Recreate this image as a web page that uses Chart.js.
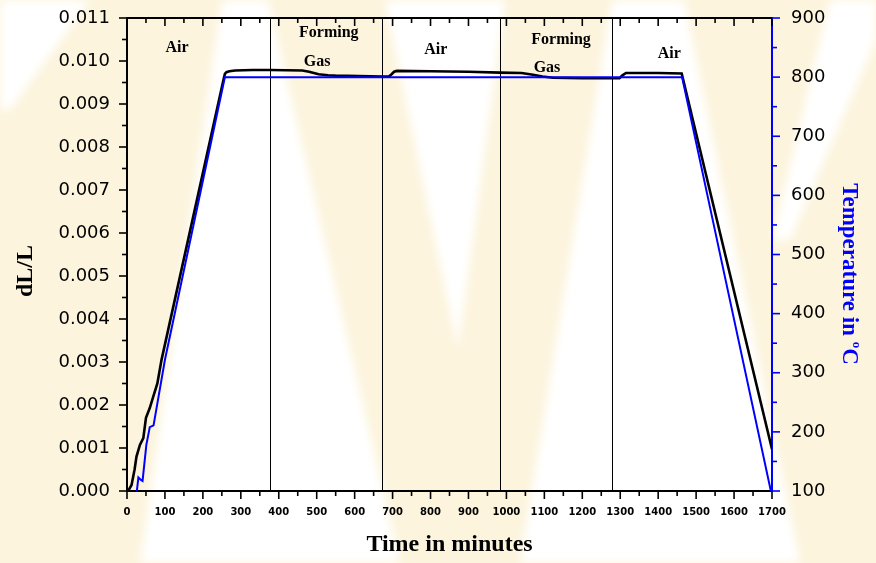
<!DOCTYPE html>
<html>
<head>
<meta charset="utf-8">
<script src="https://cdn.jsdelivr.net/npm/chart.js@4.4.1/dist/chart.umd.min.js"></script>
<style>
  html, body { margin: 0; padding: 0; background: #fcf4dd; }
  #wrap { width: 876px; height: 563px; position: relative; }
</style>
</head>
<body>
<div id="wrap"><canvas id="dilChart"></canvas></div>
<script>
// Dilatometer run: relative length change and furnace temperature vs time
const timeMax = 1700;

const strainTime = [0, 5, 12, 20, 25, 34, 43, 50, 60, 69, 80, 91, 254, 258, 262, 270, 285, 330, 377, 462, 480, 505,
  530, 549, 610, 672, 690, 696, 704, 711, 800, 900, 983, 1040, 1070, 1095, 1123, 1200, 1278, 1298, 1305, 1315, 1400, 1462, 1700];
const strainValues = [0, 0.00003, 0.00014, 0.0005, 0.0008, 0.00107, 0.00123, 0.0017, 0.00193, 0.00219,
  0.0025, 0.00305, 0.00955, 0.0097, 0.00974, 0.00976, 0.00978, 0.00979, 0.00979, 0.00978, 0.00975, 0.00969,
  0.00967, 0.00966, 0.00965, 0.00964, 0.00964, 0.00968, 0.00975, 0.00977, 0.00976, 0.00975, 0.00973, 0.00972,
  0.00968, 0.00964, 0.00961, 0.0096, 0.0096, 0.0096, 0.00966, 0.00972, 0.00972, 0.00971, 0.00097];

const tempTime = [26, 30, 36, 41, 51, 60, 70, 100, 258, 1463, 1697];
const tempValues = [100, 123, 119, 117, 178, 208, 211, 322, 800, 800, 100];

// atmosphere switch-over times
const switchTimes = [377, 672, 983, 1278];

const atmLabels = ['Air', 'Forming', 'Gas', 'Air', 'Forming', 'Gas', 'Air'];
const atmLabelTime = [132, 532, 501, 814, 1144, 1107, 1429];
const atmLabelLevel = [0.0103, 0.01065, 0.00998, 0.01026, 0.01049, 0.00984, 0.01016];

const sansFont = "'DejaVu Sans', sans-serif";
const serifFont = "'Liberation Serif', 'Times New Roman', serif";

function line(ctx, x1, y1, x2, y2) {
  ctx.beginPath();
  ctx.moveTo(x1, y1);
  ctx.lineTo(x2, y2);
  ctx.stroke();
}

// vertical axes: fixed width, no extra label padding above/below the plot
function fixWidth(w) {
  return s => {
    s.width = w;
    s.paddingTop = 0;
    s.paddingBottom = 0;
  };
}

// faint chevron watermark behind everything
const watermark = {
  id: 'watermark',
  beforeDraw(chart) {
    const { ctx, width, height } = chart;
    const shapes = [
      [[0, 0], [90, 0], [10, 110], [0, 110]],
      [[222, 0], [268, 0], [400, 563], [140, 563]],
      [[385, 0], [505, 0], [458, 350]],
      [[612, 0], [684, 0], [800, 563], [520, 563]],
      [[830, 0], [876, 0], [876, 40], [790, 240], [772, 240]]
    ];
    ctx.save();
    ctx.fillStyle = '#fcf4dd';
    ctx.fillRect(0, 0, width, height);
    ctx.filter = 'blur(5px)';
    ctx.fillStyle = '#ffffff';
    shapes.forEach(poly => {
      ctx.beginPath();
      poly.forEach(([px, py], i) => i ? ctx.lineTo(px, py) : ctx.moveTo(px, py));
      ctx.closePath();
      ctx.fill();
    });
    ctx.restore();
  }
};

// thin vertical lines where the gas was switched
const switchLines = {
  id: 'switchLines',
  beforeDatasetsDraw(chart) {
    const { ctx, chartArea: a, scales } = chart;
    ctx.save();
    ctx.strokeStyle = '#000';
    ctx.lineWidth = 1;
    switchTimes.forEach(t => {
      const px = Math.round(scales.x.getPixelForValue(t)) + 0.5;
      line(ctx, px, a.top, px, a.bottom);
    });
    ctx.restore();
  }
};

// major/minor tick marks, top frame line with inward mirror ticks
const tickMarks = {
  id: 'tickMarks',
  afterDraw(chart) {
    const { ctx, chartArea: a, scales } = chart;
    const major = 8, minor = 5;
    ctx.save();
    ctx.lineWidth = 1.6;
    ctx.strokeStyle = '#000';
    for (let i = 0; i <= timeMax / 50; i++) {
      const px = scales.x.getPixelForValue(i * 50);
      const len = i % 2 === 0 ? major : minor;
      line(ctx, px, a.bottom, px, a.bottom + len);
      line(ctx, px, a.top, px, a.top + len);
    }
    for (let i = 0; i <= 22; i++) {
      const py = scales.y.getPixelForValue(i * 0.0005);
      const len = i % 2 === 0 ? major : minor;
      line(ctx, a.left - len, py, a.left, py);
    }
    ctx.lineWidth = 2;
    line(ctx, a.left - 1, a.top, a.right, a.top);
    ctx.strokeStyle = '#0000ff';
    ctx.lineWidth = 1.6;
    for (let i = 0; i <= 16; i++) {
      const py = scales.y2.getPixelForValue(100 + i * 50);
      const len = i % 2 === 0 ? major : minor;
      line(ctx, a.right, py, a.right + len, py);
    }
    ctx.restore();
  }
};

// vertical axis titles (right one with a raised degree "o")
const axisTitles = {
  id: 'axisTitles',
  afterDraw(chart) {
    const { ctx } = chart;
    ctx.save();
    ctx.font = 'bold 24px ' + serifFont;
    ctx.fillStyle = '#000';
    ctx.textAlign = 'center';
    ctx.textBaseline = 'middle';
    ctx.translate(26, 271);
    ctx.rotate(-Math.PI / 2);
    ctx.fillText('dL/L', 0, 0);
    ctx.restore();

    ctx.save();
    ctx.fillStyle = '#0000ff';
    ctx.textBaseline = 'alphabetic';
    const main = 'bold 23px ' + serifFont;
    const sup = 'bold 13px ' + serifFont;
    ctx.font = main;
    const w1 = ctx.measureText('Temperature in ').width;
    const w3 = ctx.measureText('C').width;
    ctx.font = sup;
    const w2 = ctx.measureText('o').width;
    const total = w1 + w2 + w3;
    ctx.translate(843, 274);
    ctx.rotate(Math.PI / 2);
    let x = -total / 2;
    ctx.font = main;
    ctx.fillText('Temperature in ', x, 0);
    x += w1;
    ctx.font = sup;
    ctx.fillText('o', x, -10);
    x += w2;
    ctx.font = main;
    ctx.fillText('C', x, 0);
    ctx.restore();
  }
};

// gas atmosphere names above the plateau
const atmosphereLabels = {
  id: 'atmosphereLabels',
  afterDatasetsDraw(chart) {
    const { ctx, scales } = chart;
    ctx.save();
    ctx.font = 'bold 16px ' + serifFont;
    ctx.fillStyle = '#000';
    ctx.textAlign = 'center';
    ctx.textBaseline = 'middle';
    atmLabels.forEach((txt, i) => {
      ctx.fillText(txt, scales.x.getPixelForValue(atmLabelTime[i]), scales.y.getPixelForValue(atmLabelLevel[i]));
    });
    ctx.restore();
  }
};

new Chart(document.getElementById('dilChart'), {
  type: 'line',
  data: {
    datasets: [
      {
        label: 'Temperature',
        data: tempTime.map((t, i) => ({ x: t, y: tempValues[i] })),
        yAxisID: 'y2',
        borderColor: '#0000ff',
        borderWidth: 2,
        pointRadius: 0,
        tension: 0,
        order: 1
      },
      {
        label: 'dL/L',
        data: strainTime.map((t, i) => ({ x: t, y: strainValues[i] })),
        yAxisID: 'y',
        borderColor: '#000000',
        borderWidth: 2.6,
        pointRadius: 0,
        tension: 0,
        order: 2
      }
    ]
  },
  options: {
    responsive: true,
    maintainAspectRatio: false,
    animation: false,
    layout: { padding: { top: 18, left: 0, right: 0, bottom: 0 } },
    plugins: { legend: { display: false }, tooltip: { enabled: false } },
    scales: {
      x: {
        type: 'linear',
        position: 'bottom',
        min: 0,
        max: timeMax,
        afterFit(s) { s.height = 72; },
        grid: { display: false, drawTicks: false },
        border: { color: '#000', width: 2 },
        ticks: {
          stepSize: 100,
          autoSkip: false,
          maxRotation: 0,
          padding: 15,
          color: '#000',
          font: { family: sansFont, size: 10, weight: 'bold' },
          callback: v => String(v)
        },
        title: {
          display: true,
          text: 'Time in minutes',
          color: '#000',
          padding: { top: 0, bottom: 4 },
          font: { family: serifFont, size: 24, weight: 'bold' }
        }
      },
      y: {
        position: 'left',
        min: 0,
        max: 0.011,
        afterFit: fixWidth(127),
        grid: { display: false, drawTicks: false },
        border: { color: '#000', width: 2 },
        ticks: {
          stepSize: 0.001,
          padding: 17,
          color: '#000',
          font: { family: sansFont, size: 18 },
          callback: v => v.toFixed(3)
        }
      },
      y2: {
        position: 'right',
        min: 100,
        max: 900,
        afterFit: fixWidth(104),
        grid: { display: false, drawTicks: false },
        border: { color: '#0000ff', width: 2 },
        ticks: {
          stepSize: 100,
          padding: 19,
          color: '#000',
          font: { family: sansFont, size: 18 }
        }
      }
    }
  },
  plugins: [watermark, switchLines, tickMarks, axisTitles, atmosphereLabels]
});
</script>
</body>
</html>
